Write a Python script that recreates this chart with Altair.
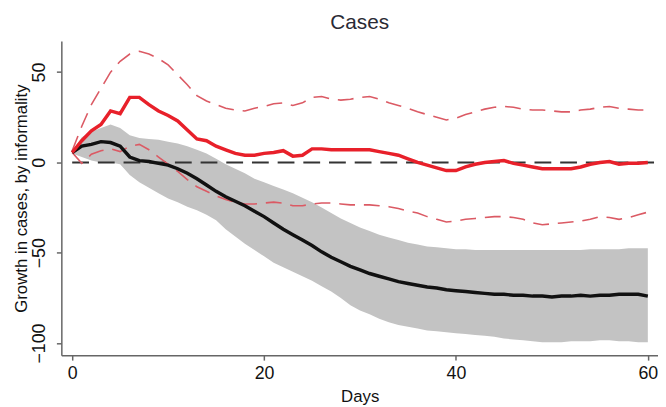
import altair as alt
import pandas as pd

days = list(range(61))

# Black line: average growth in cases (low-informality reference)
mean_line = [5.5, 9, 10, 11.5, 11, 9, 3, 1, 0.5, -0.5,
             -1.5, -3.5, -6, -9, -12.5, -16, -19, -21.5, -24, -27,
             -30, -33.5, -37, -40, -43, -46, -49.5, -52.5, -55, -57.5,
             -59.5, -61.5, -63, -64.5, -66, -67, -68, -69, -69.5, -70.5,
             -71, -71.5, -72, -72.5, -73, -73, -73.5, -73.5, -74, -74,
             -74.5, -74, -74, -73.5, -74, -73.5, -73.5, -73, -73, -73, -74]

band_hi = [6, 14, 17, 19, 21, 19, 15, 13.5, 13, 12.5,
           11.5, 10.5, 9, 7, 5, 2, -1, -3.5, -6, -9,
           -11, -13, -15, -17, -19.5, -22, -25, -28, -31, -33.5,
           -36, -38, -40, -41.5, -43, -44.5, -45.5, -46.5, -47, -47.5,
           -48, -48, -48.5, -48.5, -48.5, -48.5, -48.5, -48.5, -48.5, -48.5,
           -48.5, -48.5, -48.5, -48.5, -48, -48, -48, -48, -47.5, -47.5, -47.5]

band_lo = [5, 3, 1, 0, 0, -1, -7, -11, -14, -17,
           -20, -22, -24.5, -26.5, -29, -32, -37, -41, -45, -48.5,
           -52, -55.5, -58, -60.5, -63, -65.5, -68.5, -71.5, -75, -79,
           -82, -84, -86.5, -88.5, -90, -91, -92, -93, -93.5, -94,
           -94.5, -95, -95.5, -96, -96.5, -97.5, -98, -98.5, -99, -99.5,
           -99.5, -99.5, -99, -99, -99, -98.5, -98.5, -99, -99, -99.5, -99.5]

# Red line: differential growth by informality
red_line = [5.5, 12, 17.5, 21, 28.5, 27, 36, 36, 32, 28.5,
            26, 23, 18, 13, 12, 9, 7, 5, 4, 4,
            5, 5.5, 6.5, 3.5, 4, 7.5, 7.5, 7, 7, 7,
            7, 7, 6, 5, 4, 2, 0, -1.5, -3, -4.5,
            -4.5, -2.5, -1, 0, 0.5, 1, -0.5, -1.5, -2.5, -3.5,
            -3.5, -3.5, -3.5, -2.5, -1, 0, 0.5, -1, -0.5, -0.5, 0]

red_hi = [6.5, 20, 32, 41, 50, 56, 60, 61.5, 60, 57.5,
          54, 48.5, 43, 37, 34, 32, 30, 29, 28.5, 30,
          31, 32.5, 33, 31.5, 33, 36, 36.5, 35, 34.5, 35,
          36, 36.5, 35, 33, 31.5, 30, 28, 26.5, 25, 23.5,
          24.5, 26.5, 28, 29.5, 30.5, 31, 30.5, 29.5, 29, 29,
          28.5, 28, 28, 29, 29.5, 30.5, 31, 30, 29.5, 29, 29]

red_lo = [5.5, -0.5, 4.5, 6.5, 7.5, 6, 9, 10, 7, 3,
          -1, -5, -9.5, -13.5, -16, -18.5, -20.5, -22, -23, -23,
          -22.5, -22, -22.5, -24, -24, -23, -22.5, -22.5, -23, -23.5,
          -23.5, -23.5, -24, -24.5, -25.5, -27, -28, -30, -31.5, -33,
          -32.5, -31.5, -31, -30.5, -30, -30, -30.5, -31.5, -33.5, -34.5,
          -34, -33.5, -33, -32.5, -31.5, -30, -30.5, -31.5, -30.5, -29, -27.5]

x_ticks = [0, 20, 40, 60]
y_ticks = [-100, -50, 0, 50]

df = pd.DataFrame({
    "day": days, "mean": mean_line, "band_lo": band_lo, "band_hi": band_hi,
    "red": red_line, "red_lo": red_lo, "red_hi": red_hi,
})

FONT = "Liberation Sans"
AX_COL = "#666666"

xscale = alt.Scale(domain=[-1.13, 61.06], nice=False, zero=False)
yscale = alt.Scale(domain=[-106.7, 67.2], nice=False, zero=False)

xaxis = alt.Axis(values=x_ticks, title="Days", labelFontSize=18, titleFontSize=17,
                 labelPadding=5, titlePadding=6, tickSize=5, titleFontWeight="normal")
yaxis = alt.Axis(values=y_ticks, title="Growth in cases, by informality",
                 labelFontSize=18, titleFontSize=17, labelAngle=-90,
                 labelAlign="center", labelBaseline="bottom", labelPadding=8,
                 tickSize=5, titleFontWeight="normal", titleX=-40, titleBaseline="middle")

base = alt.Chart(df)

band = base.mark_area(color="#c3c3c3", opacity=1).encode(
    x=alt.X("day:Q", scale=xscale, axis=xaxis),
    y=alt.Y("band_lo:Q", scale=yscale, axis=yaxis),
    y2="band_hi:Q",
)

zero = alt.Chart(pd.DataFrame({"a": [0]})).mark_rule(
    color="#333333", strokeWidth=2, strokeDash=[17, 9]
).encode(x=alt.datum(0), x2=alt.datum(61), y=alt.datum(0))

red_hi_l = base.mark_line(color="#db5a64", strokeWidth=1.6, strokeDash=[16, 9]).encode(
    x="day:Q", y="red_hi:Q")
red_lo_l = base.mark_line(color="#db5a64", strokeWidth=1.6, strokeDash=[16, 9]).encode(
    x="day:Q", y="red_lo:Q")
black = base.mark_line(color="#111111", strokeWidth=3.5).encode(x="day:Q", y="mean:Q")
red = base.mark_line(color="#e8202a", strokeWidth=3.5).encode(x="day:Q", y="red:Q")

chart = alt.layer(band, zero, red_hi_l, red_lo_l, black, red).properties(
    width=604, height=318,
    title=alt.TitleParams("Cases", fontSize=21, font=FONT, color="#2a2a35",
                          fontWeight="normal", anchor="middle", offset=8),
    autosize=alt.AutoSizeParams(type="none"),
    padding={"left": 54, "top": 31, "right": 0, "bottom": 48},
).configure_view(stroke=None).configure_axis(
    grid=False, domainColor=AX_COL, tickColor=AX_COL, domainWidth=1.5, tickWidth=1.5,
    labelFont=FONT, titleFont=FONT, labelColor="#111111", titleColor="#111111",
)

chart.save("out.html", embed_options={"renderer": "svg", "actions": False})
